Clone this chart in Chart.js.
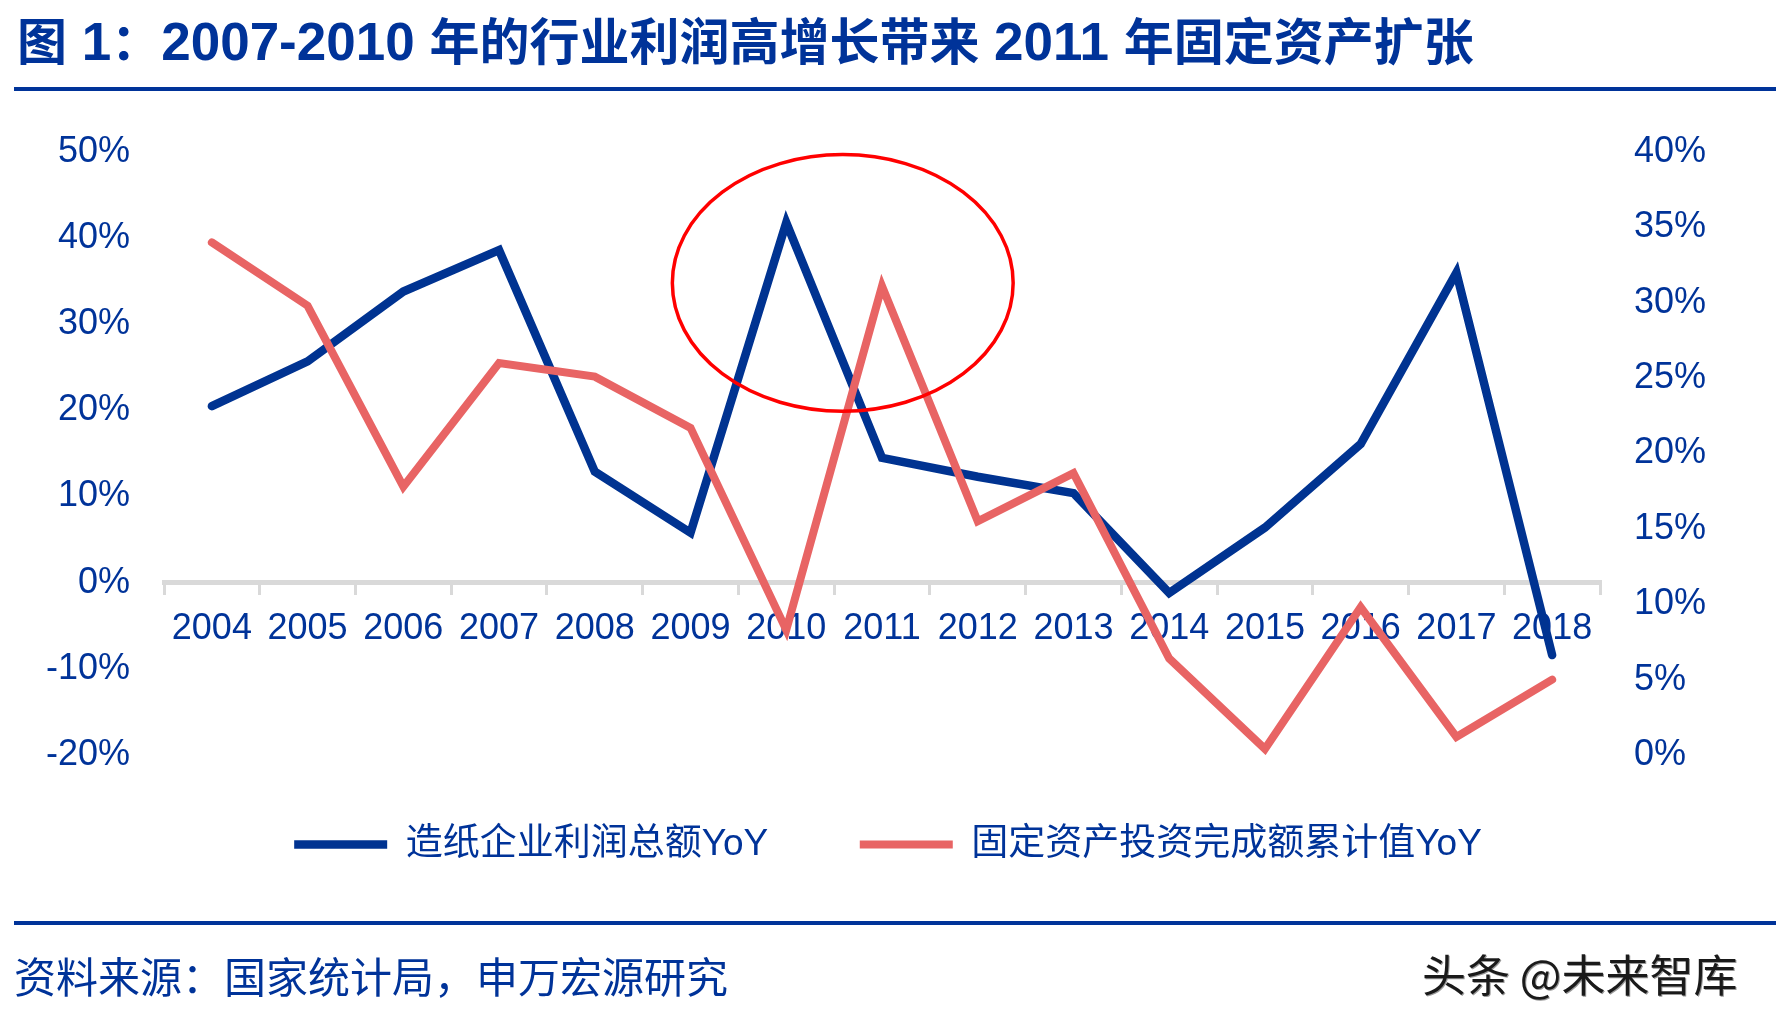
<!DOCTYPE html>
<html>
<head>
<meta charset="utf-8">
<script src="https://cdn.jsdelivr.net/npm/chart.js@4.4.1/dist/chart.umd.min.js"></script>
<style>
  html, body { margin: 0; padding: 0; background: #fff; }
  #page { position: relative; width: 1776px; height: 1022px; overflow: hidden; }
  #chart { position: absolute; left: 0; top: 0; }
  .txt { position: absolute; white-space: nowrap; color: #003399; }
  #title { left: 17px; top: 13px; font: bold 50px/50px "Noto Sans CJK SC", sans-serif; }
  #title .n { font-family: "Liberation Sans", Arial, sans-serif; font-size: 53px; }
  .rule { position: absolute; left: 14px; right: 0; height: 4px; background: #003399; }
  #source { left: 14px; top: 954px; font: 42px/42px "Noto Sans CJK SC", sans-serif; }
  #mark { left: 1422px; top: 951px; font: 44px/44px "Noto Sans CJK SC", sans-serif; color: #1a1a1a; text-shadow: 1px 1px 0 #999; }
</style>
</head>
<body>
<div id="page">
  <canvas id="chart" width="1776" height="1022"></canvas>
  <div class="txt" id="title">图<span class="n"> 1</span>：<span class="n">2007-2010 </span>年的行业利润高增长带来<span class="n"> 2011 </span>年固定资产扩张</div>
  <div class="rule" style="top:87px"></div>
  <div class="rule" style="top:921px"></div>
  <div class="txt" id="source">资料来源：国家统计局，申万宏源研究</div>
  <div class="txt" id="mark">头条 @未来智库</div>
</div>
<script>
const years = ["2004", "2005", "2006", "2007", "2008", "2009", "2010", "2011", "2012", "2013", "2014", "2015", "2016", "2017", "2018"];
// left axis, %
const profitYoY = [20.5, 25.7, 33.8, 38.6, 12.9, 5.8, 41.8, 14.5, 12.3, 10.4, -1.2, 6.4, 16.1, 36.0, -8.4];
// right axis, %
const fixedAssetYoY = [34.0, 29.8, 17.8, 26.0, 25.1, 21.7, 8.3, 31.1, 15.5, 18.7, 6.4, 0.4, 9.8, 1.2, 5.0];
const seriesNames = ["造纸企业利润总额YoY", "固定资产投资完成额累计值YoY"];
const leftTicks = { min: -20, max: 50, step: 10 };
const rightTicks = { min: 0, max: 40, step: 5 };

const navy = "#003399";
const lineBlue = "#003391";
const lineRed = "#E86464";
const fontFamily = "'Liberation Sans', 'Noto Sans CJK SC', sans-serif";

// red ring drawn round the 2010-2011 peak, in axis units
const ring = { index: 6.59, value: 34.8, rIndex: 1.78, rValue: 14.9 };

const ringPlugin = {
  id: "ring",
  afterDatasetsDraw(chart) {
    const xs = chart.scales.x, ys = chart.scales.y;
    const cx = xs.getPixelForValue(ring.index);
    const cy = ys.getPixelForValue(ring.value);
    const rx = xs.getPixelForValue(ring.index + ring.rIndex) - cx;
    const ry = ys.getPixelForValue(ring.value - ring.rValue) - cy;
    const ctx = chart.ctx;
    ctx.save();
    ctx.beginPath();
    ctx.ellipse(cx, cy, rx, ry, 0, 0, Math.PI * 2);
    ctx.strokeStyle = "#FF0000";
    ctx.lineWidth = 3.5;
    ctx.stroke();
    ctx.restore();
  }
};

const pct = v => v + "%";

new Chart(document.getElementById("chart"), {
  type: "line",
  data: {
    labels: years,
    datasets: [
      {
        label: seriesNames[0] + "  ",
        data: profitYoY,
        yAxisID: "y",
        borderColor: lineBlue,
        backgroundColor: lineBlue,
        borderWidth: 8.5,
        borderCapStyle: "round",
        pointRadius: 0,
        tension: 0,
        order: 2
      },
      {
        label: seriesNames[1],
        data: fixedAssetYoY,
        yAxisID: "y1",
        borderColor: lineRed,
        backgroundColor: lineRed,
        borderWidth: 8,
        borderCapStyle: "round",
        pointRadius: 0,
        tension: 0,
        order: 1
      }
    ]
  },
  options: {
    responsive: false,
    animation: false,
    devicePixelRatio: 1,
    layout: { padding: { top: 152, bottom: 149, left: 0, right: 0 } },
    plugins: {
      tooltip: { enabled: false },
      legend: {
        position: "bottom",
        labels: {
          usePointStyle: true,
          pointStyle: "line",
          pointStyleWidth: 93,
          padding: 71,
          color: navy,
          font: { family: fontFamily, size: 37 },
          sort: (a, b) => a.datasetIndex - b.datasetIndex
        }
      }
    },
    scales: {
      x: {
        type: "category",
        position: { y: 0 },
        offset: true,
        grid: { drawOnChartArea: false, drawTicks: true, tickLength: 10, color: "#D9D9D9", lineWidth: 3, offset: true },
        border: { display: true, color: "#D9D9D9", width: 5 },
        ticks: { color: navy, font: { family: fontFamily, size: 36 }, padding: 14.5, maxRotation: 0, autoSkip: false }
      },
      y: {
        position: "left",
        min: leftTicks.min,
        max: leftTicks.max,
        grid: { display: false, drawTicks: false },
        border: { display: false },
        ticks: { stepSize: leftTicks.step, callback: pct, padding: 34, color: navy, font: { family: fontFamily, size: 36 } },
        afterFit: s => { s.width = 164; }
      },
      y1: {
        position: "right",
        min: rightTicks.min,
        max: rightTicks.max,
        grid: { display: false, drawTicks: false },
        border: { display: false },
        ticks: { stepSize: rightTicks.step, callback: pct, padding: 34, color: navy, font: { family: fontFamily, size: 36 } },
        afterFit: s => { s.width = 176; }
      }
    }
  },
  plugins: [ringPlugin]
});
</script>
</body>
</html>
